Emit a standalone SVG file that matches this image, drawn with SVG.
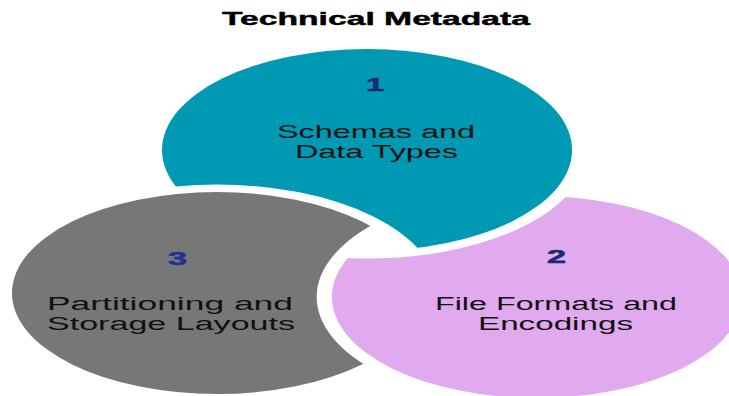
<svg xmlns="http://www.w3.org/2000/svg" width="729" height="396" viewBox="0 0 729 396">
  <style>
    .title { font-family: "Liberation Sans", Arial, sans-serif; font-weight: bold; font-size: 18px; fill: #000; stroke: #000; stroke-width: 0.4px; }
    .num { font-family: "Liberation Sans", Arial, sans-serif; font-weight: bold; font-size: 19px; fill: #1c2a72; stroke: #1c2a72; stroke-width: 0.6px; }
    .label { font-family: "Liberation Sans", Arial, sans-serif; font-size: 18px; fill: #111; }
  </style>
  <defs>
    <!-- Each mask removes the neighbouring circle plus a white gap band -->
    <mask id="cutGray" maskUnits="userSpaceOnUse" x="-100" y="-100" width="600" height="600">
      <rect x="-100" y="-100" width="600" height="600" fill="#fff"/>
      <circle cx="106.9" cy="293" r="101" fill="#000" stroke="#000" stroke-width="15"/>
    </mask>
    <mask id="cutPink" maskUnits="userSpaceOnUse" x="-100" y="-100" width="600" height="600">
      <rect x="-100" y="-100" width="600" height="600" fill="#fff"/>
      <circle cx="264.5" cy="297" r="101" fill="#000" stroke="#000" stroke-width="15"/>
    </mask>
    <mask id="cutTeal" maskUnits="userSpaceOnUse" x="-100" y="-100" width="600" height="600">
      <rect x="-100" y="-100" width="600" height="600" fill="#fff"/>
      <circle cx="180.8" cy="150" r="101" fill="#000" stroke="#000" stroke-width="15"/>
    </mask>
  </defs>

  <rect width="729" height="396" fill="#fff"/>

  <text class="title" x="222" y="25" textLength="308" lengthAdjust="spacingAndGlyphs">Technical Metadata</text>

  <!-- Shapes drawn as circles stretched horizontally into ellipses -->
  <g id="node-1">
    <g transform="scale(2.03,1)">
      <circle cx="180.8" cy="150" r="101" fill="#0099b4" mask="url(#cutGray)"/>
    </g>
    <text class="num" x="366" y="91" textLength="18" lengthAdjust="spacingAndGlyphs">1</text>
    <text class="label" x="277" y="138" textLength="198" lengthAdjust="spacingAndGlyphs">Schemas and</text>
    <text class="label" x="295" y="158" textLength="163" lengthAdjust="spacingAndGlyphs">Data Types</text>
  </g>

  <g id="node-2">
    <g transform="scale(2.03,1)">
      <circle cx="264.5" cy="297" r="101" fill="#e1a9ee" mask="url(#cutTeal)"/>
    </g>
    <text class="num" x="547" y="263" textLength="19" lengthAdjust="spacingAndGlyphs">2</text>
    <text class="label" x="435" y="310" textLength="242" lengthAdjust="spacingAndGlyphs">File Formats and</text>
    <text class="label" x="478" y="330" textLength="155" lengthAdjust="spacingAndGlyphs">Encodings</text>
  </g>

  <g id="node-3">
    <g transform="scale(2.03,1)">
      <circle cx="106.9" cy="293" r="101" fill="#777777" mask="url(#cutPink)"/>
    </g>
    <text class="num" x="168" y="265" textLength="19" lengthAdjust="spacingAndGlyphs" style="fill:#1c3490;stroke:#1c3490">3</text>
    <text class="label" x="47" y="310" textLength="246" lengthAdjust="spacingAndGlyphs">Partitioning and</text>
    <text class="label" x="47" y="330" textLength="248" lengthAdjust="spacingAndGlyphs">Storage Layouts</text>
  </g>

  <g id="connectors"></g>
</svg>
